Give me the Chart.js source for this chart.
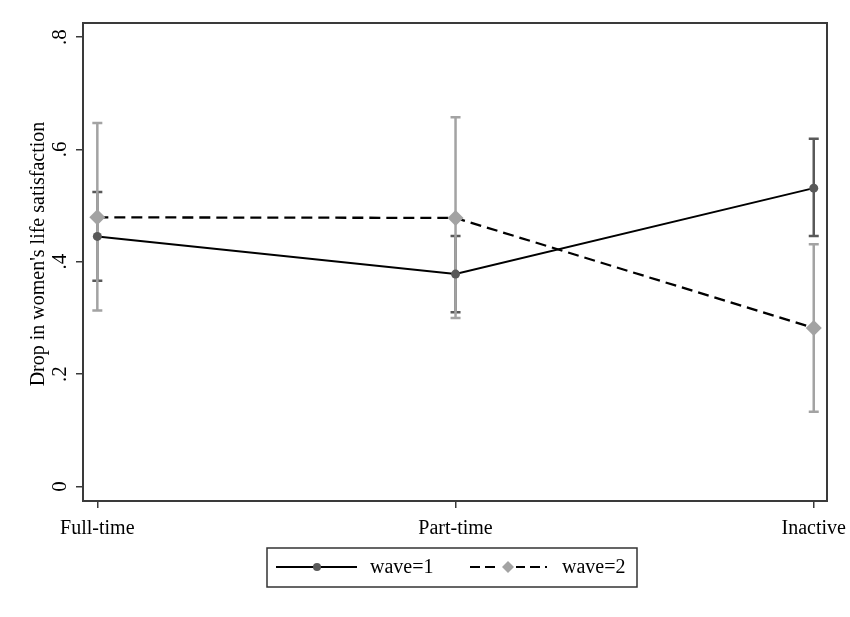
<!DOCTYPE html>
<html>
<head>
<meta charset="utf-8">
<script src="https://cdn.jsdelivr.net/npm/chart.js@4.4.1/dist/chart.umd.min.js"></script>
<style>
  html, body { margin: 0; padding: 0; background: #fff; }
  #wrap { width: 850px; height: 617px; }
</style>
</head>
<body>
<div id="wrap"><canvas id="c" width="850" height="617"></canvas></div>
<script>
// ---- data ----
const categories = ['Full-time', 'Part-time', 'Inactive'];
const wave1 = [0.445, 0.378, 0.531];
const wave1Lo = [0.366, 0.310, 0.446];
const wave1Hi = [0.524, 0.446, 0.619];
const wave2 = [0.479, 0.478, 0.282];
const wave2Lo = [0.313, 0.300, 0.133];
const wave2Hi = [0.647, 0.657, 0.431];
const yTickValues = [0, 0.2, 0.4, 0.6, 0.8];
const yTickLabels = ['0', '.2', '.4', '.6', '.8'];
const yTitle = "Drop in women's life satisfaction";
const seriesNames = ['wave=1', 'wave=2'];

const FONT = '"Liberation Serif", "Times New Roman", serif';
const C1 = '#595959', C2 = '#a3a3a3', FRAME = '#3a3a3a';

const errorBars = {
  id: 'errorBars',
  beforeDatasetsDraw(chart) {
    const ctx = chart.ctx, xs = chart.scales.x, ys = chart.scales.y;
    const sets = [[wave1Lo, wave1Hi, C1], [wave2Lo, wave2Hi, C2]];
    ctx.save();
    sets.forEach(([lo, hi, col]) => {
      ctx.strokeStyle = col; ctx.lineWidth = 2.5; ctx.lineCap = 'butt';
      lo.forEach((l, i) => {
        const x = xs.getPixelForValue(i);
        const y1 = ys.getPixelForValue(l), y2 = ys.getPixelForValue(hi[i]);
        ctx.beginPath();
        ctx.moveTo(x, y1); ctx.lineTo(x, y2);
        ctx.moveTo(x - 5, y1); ctx.lineTo(x + 5, y1);
        ctx.moveTo(x - 5, y2); ctx.lineTo(x + 5, y2);
        ctx.stroke();
      });
    });
    ctx.restore();
  }
};

const decorations = {
  id: 'decorations',
  afterDraw(chart) {
    const ctx = chart.ctx, a = chart.chartArea, ys = chart.scales.y;
    ctx.save();
    // frame
    ctx.strokeStyle = FRAME; ctx.lineWidth = 2;
    ctx.strokeRect(a.left, a.top, a.right - a.left, a.bottom - a.top);
    // y tick labels (rotated)
    ctx.fillStyle = '#000';
    ctx.font = '21px ' + FONT;
    ctx.textAlign = 'center'; ctx.textBaseline = 'alphabetic';
    yTickValues.forEach((v, i) => {
      const y = ys.getPixelForValue(v);
      ctx.save(); ctx.translate(66, y); ctx.rotate(-Math.PI / 2);
      ctx.fillText(yTickLabels[i], 0, 0);
      ctx.restore();
    });
    // y title
    ctx.save(); ctx.translate(44, 254); ctx.rotate(-Math.PI / 2);
    ctx.font = '20px ' + FONT;
    ctx.fillText(yTitle, 0, 0);
    ctx.restore();
    // legend
    const L = 267, T = 548, R = 637, B = 587, cy = 567;
    ctx.strokeStyle = '#333'; ctx.lineWidth = 1.5;
    ctx.strokeRect(L, T, R - L, B - T);
    ctx.strokeStyle = '#000'; ctx.lineWidth = 2;
    ctx.beginPath(); ctx.moveTo(276, cy); ctx.lineTo(357, cy); ctx.stroke();
    ctx.fillStyle = C1;
    ctx.beginPath(); ctx.arc(317, cy, 4, 0, Math.PI * 2); ctx.fill();
    ctx.setLineDash([10, 5]); ctx.lineWidth = 2.2;
    ctx.beginPath(); ctx.moveTo(470, cy); ctx.lineTo(547, cy); ctx.stroke();
    ctx.setLineDash([]);
    ctx.fillStyle = '#fff';
    ctx.fillRect(500, cy - 7, 16, 14);
    ctx.fillStyle = C2;
    ctx.beginPath();
    ctx.moveTo(508 - 6, cy); ctx.lineTo(508, cy - 6); ctx.lineTo(508 + 6, cy); ctx.lineTo(508, cy + 6);
    ctx.closePath(); ctx.fill();
    ctx.fillStyle = '#000';
    ctx.textAlign = 'left'; ctx.textBaseline = 'middle';
    ctx.font = '20px ' + FONT;
    ctx.fillText(seriesNames[0], 370, cy + 1);
    ctx.fillText(seriesNames[1], 562, cy + 1);
    ctx.restore();
  }
};

new Chart(document.getElementById('c'), {
  type: 'scatter',
  data: {
    datasets: [
      {
        label: seriesNames[0],
        data: wave1.map((v, i) => ({ x: i, y: v })),
        showLine: true,
        borderColor: '#000', borderWidth: 2,
        pointStyle: 'circle', pointRadius: 4.5,
        pointBackgroundColor: C1, pointBorderColor: C1, pointBorderWidth: 0,
        tension: 0
      },
      {
        label: seriesNames[1],
        data: wave2.map((v, i) => ({ x: i, y: v })),
        showLine: true,
        borderColor: '#000', borderWidth: 2.3, borderDash: [11, 6],
        pointStyle: 'rectRot', pointRadius: 8,
        pointBackgroundColor: C2, pointBorderColor: C2, pointBorderWidth: 0,
        tension: 0
      }
    ]
  },
  options: {
    responsive: false,
    animation: false,
    events: [],
    layout: { padding: { left: 0, top: 23, right: 23, bottom: 71 } },
    plugins: { legend: { display: false }, tooltip: { enabled: false } },
    scales: {
      x: {
        type: 'linear', min: -0.04, max: 2.037,
        afterBuildTicks: s => { s.ticks = categories.map((c, i) => ({ value: i })); },
        afterFit: s => { s.height = 45; s.paddingLeft = 0; s.paddingRight = 0; },
        ticks: {
          callback: v => categories[v],
          color: '#000', font: { family: FONT, size: 20 }, padding: 9, maxRotation: 0, autoSkip: false
        },
        grid: { display: true, drawOnChartArea: false, drawTicks: true, tickLength: 7, color: FRAME, lineWidth: 1.5 },
        border: { display: true, color: FRAME, width: 2 }
      },
      y: {
        type: 'linear', min: -0.026, max: 0.825,
        afterBuildTicks: s => { s.ticks = yTickValues.map(v => ({ value: v })); },
        afterFit: s => { s.width = 83; s.paddingTop = 0; s.paddingBottom = 0; },
        ticks: { display: false },
        grid: { display: true, drawOnChartArea: false, drawTicks: true, tickLength: 7, color: FRAME, lineWidth: 1.5 },
        border: { display: true, color: FRAME, width: 2 }
      }
    }
  },
  plugins: [errorBars, decorations]
});
</script>
</body>
</html>
